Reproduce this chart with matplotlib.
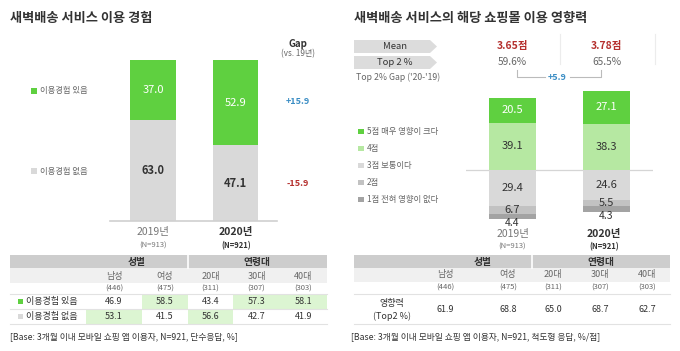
import matplotlib
matplotlib.use("Agg")
import matplotlib.pyplot as plt
from matplotlib.patches import Rectangle, Polygon

plt.rcParams['font.family'] = ['Noto Sans CJK KR', 'DejaVu Sans']

# ---------------- data ----------------
years = ['2019년', '2020년']
sample_n = ['(N=913)', '(N=921)']
exp_yes = [37.0, 52.9]
exp_no = [63.0, 47.1]
exp_gap = [15.9, -15.9]
exp_labels = ['이용경험 있음', '이용경험 없음']

score_labels = ['5점 매우 영향이 크다', '4점', '3점 보통이다', '2점', '1점 전혀 영향이 없다']
score5 = [20.5, 27.1]
score4 = [39.1, 38.3]
score3 = [29.4, 24.6]
score2 = [6.7, 5.5]
score1 = [4.4, 4.3]
means = [3.65, 3.78]
top2 = [59.6, 65.5]
top2_gap = 5.9

groups = ['남성', '여성', '20대', '30대', '40대']
group_base = [446, 475, 311, 307, 303]
tab_yes = [46.9, 58.5, 43.4, 57.3, 58.1]
tab_no = [53.1, 41.5, 56.6, 42.7, 41.9]
tab_influence = [61.9, 68.8, 65.0, 68.7, 62.7]

# ---------------- style ----------------
W, H = 680, 351
GREEN = '#5fd040'
LGREEN = '#b6e8a2'
HL = '#dcf5d2'
G3 = '#d9d9d9'
G2 = '#c2c2c2'
G1 = '#a3a3a3'
DARK = '#333333'
MID = '#666666'
BLUE = '#3a8dc4'
RED = '#b5302e'

fig = plt.figure(figsize=(W / 100, H / 100), dpi=100)
fig.patch.set_facecolor('white')
ov = fig.add_axes([0, 0, 1, 1])
ov.set_xlim(0, W)
ov.set_ylim(H, 0)
ov.axis('off')


def pax(x0, y0, x1, y1):
    a = fig.add_axes([x0 / W, 1 - y1 / H, (x1 - x0) / W, (y1 - y0) / H])
    a.axis('off')
    return a


def t(x, y, s, size=6.5, color=DARK, ha='center', weight='normal', **kw):
    ov.text(x, y, s, fontsize=size, color=color, ha=ha, va='center', fontweight=weight, **kw)


# ================= LEFT PANEL =================
t(10, 18, '새벽배송 서비스 이용 경험', size=9.5, ha='left', weight='bold')

axL = pax(110, 60, 277, 221)
axL.set_xlim(-0.521, 1.503)
axL.set_ylim(0, 100)
xs = [0, 1]
axL.bar(xs, exp_no, width=0.557, color=G3, linewidth=0)
axL.bar(xs, exp_yes, bottom=exp_no, width=0.557, color=GREEN, linewidth=0)
axL.axhline(0, color='#d0d0d0', lw=1.2, clip_on=False)
for i in xs:
    axL.text(i, exp_no[i] + exp_yes[i] / 2, f'{exp_yes[i]:.1f}', color='white',
             ha='center', va='center', fontsize=8)
    axL.text(i, exp_no[i] / 2, f'{exp_no[i]:.1f}', color=DARK,
             ha='center', va='center', fontsize=8, fontweight='bold')

# year labels
for i, (cx, col, w) in enumerate([(153, '#777777', 'normal'), (236, DARK, 'bold')]):
    t(cx, 232, years[i], size=7.5, color=col, weight=w)
    t(cx, 246, sample_n[i], size=5.5, color=col if i == 0 else DARK, weight=w)

# legend
for y, c, lab in [(91, GREEN, exp_labels[0]), (171, G3, exp_labels[1])]:
    ov.add_patch(Rectangle((31, y - 2.7), 5.5, 5.5, color=c, lw=0))
    t(40, y, lab, size=6, color=MID, ha='left')

# gap column
t(298, 44, 'Gap', size=7, weight='bold')
t(298, 54, '(vs. 19년)', size=5.8, color=MID)
t(298, 102, f'{exp_gap[0]:+.1f}', size=6.5, color=BLUE, weight='bold')
t(298, 184, f'{exp_gap[1]:+.1f}', size=6.5, color=RED, weight='bold')

# table left
colsL = [10, 86, 142, 188, 233, 280, 327]
ov.add_patch(Rectangle((10, 255), 317, 13, color='#cdcdcd', lw=0))
ov.add_line(plt.Line2D([188, 188], [255, 268], color='white', lw=1.2))
ov.add_patch(Rectangle((10, 268), 317, 15, color='#f0f0f0', lw=0))
t((86 + 188) / 2, 261.5, '성별', size=7, weight='bold')
t((188 + 327) / 2, 261.5, '연령대', size=7, weight='bold')
centersL = [(colsL[k + 1] + colsL[k + 2]) / 2 for k in range(5)]
for k, cx in enumerate(centersL):
    t(cx, 276, groups[k], size=6.5, color=MID)
    t(cx, 289, f'({group_base[k]})', size=5.5, color=MID)
rowsY = [301.5, 316.5]
for r, (vals, tot, c) in enumerate([(tab_yes, exp_yes[1], GREEN), (tab_no, exp_no[1], G3)]):
    y = rowsY[r]
    ov.add_patch(Rectangle((18, y - 2.6), 5.2, 5.2, color=c, lw=0))
    t(26, y, exp_labels[r], size=6.5, color=DARK, ha='left')
    for k, v in enumerate(vals):
        if v > tot:
            ov.add_patch(Rectangle((colsL[k + 1], y - 7.5), colsL[k + 2] - colsL[k + 1], 15, color=HL, lw=0))
        t(centersL[k], y, f'{v:.1f}', size=6.5, color=DARK)
for y in [294, 309, 324]:
    ov.add_line(plt.Line2D([10, 327], [y, y], color='#e2e2e2', lw=0.8))
t(10, 337, '[Base: 3개월 이내 모바일 쇼핑 앱 이용자, N=921, 단수응답, %]', size=6.3, color=DARK, ha='left')

# ================= RIGHT PANEL =================
t(354, 18, '새벽배송 서비스의 해당 쇼핑몰 이용 영향력', size=9.5, ha='left', weight='bold')

for y0, lab in [(40, 'Mean'), (56, 'Top 2 %')]:
    ov.add_patch(Polygon([(354, y0), (430, y0), (437, y0 + 6.5), (430, y0 + 13), (354, y0 + 13)],
                         closed=True, color='#dcdcdc', lw=0))
    t(395, y0 + 6.5, lab, size=6.8, color=DARK)
t(356, 77, "Top 2% Gap ('20-'19)", size=6.3, color=MID, ha='left')

barxR = [512.5, 606.5]
for i in range(2):
    t(barxR[i], 46, f'{means[i]:.2f}점', size=7.5, color=RED, weight='bold')
    t(barxR[i], 62, f'{top2[i]:.1f}%', size=7.3, color=MID)
for x in [560, 655]:
    ov.add_line(plt.Line2D([x, x], [34, 64], color='#ececec', lw=0.8))
# bracket
ov.add_line(plt.Line2D([517, 517, 545], [70, 77, 77], color='#bbbbbb', lw=0.8))
ov.add_line(plt.Line2D([570, 601, 601], [77, 77, 70], color='#bbbbbb', lw=0.8))
t(557, 78, f'{top2_gap:+.1f}', size=6.5, color=BLUE, weight='bold')

axR = pax(466, 85, 653, 225)
axR.set_xlim(-0.495, 1.495)
axR.set_ylim(-(225 - 170) / 1.21, (170 - 85) / 1.21)
axR.axhline(0, color='#d5d5d5', lw=0.9, zorder=0)
axR.bar(xs, score4, width=0.5, color=LGREEN, lw=0, zorder=2)
axR.bar(xs, score5, bottom=score4, width=0.5, color=GREEN, lw=0, zorder=2)
neg3 = [-v for v in score3]
neg2b = [-(a + b) for a, b in zip(score3, score2)]
neg1b = [-(a + b + c) for a, b, c in zip(score3, score2, score1)]
axR.bar(xs, neg3, width=0.5, color=G3, lw=0, zorder=2)
axR.bar(xs, score2, bottom=neg2b, width=0.5, color=G2, lw=0, zorder=2)
axR.bar(xs, score1, bottom=neg1b, width=0.5, color=G1, lw=0, zorder=2)
for i in xs:
    axR.text(i, score4[i] + score5[i] / 2, f'{score5[i]:.1f}', color='white', ha='center', va='center', fontsize=8, zorder=3)
    axR.text(i, score4[i] / 2, f'{score4[i]:.1f}', color=DARK, ha='center', va='center', fontsize=8, zorder=3)
    axR.text(i, -score3[i] / 2, f'{score3[i]:.1f}', color=DARK, ha='center', va='center', fontsize=8, zorder=3)
    axR.text(i, neg2b[i] + score2[i] / 2, f'{score2[i]:.1f}', color=DARK, ha='center', va='center', fontsize=8, zorder=3)
    axR.text(i, neg1b[i] - 3.6, f'{score1[i]:.1f}', color=DARK, ha='center', va='center', fontsize=7.5, zorder=3)

for i, (cx, col, w) in enumerate([(512.5, '#777777', 'normal'), (604, DARK, 'bold')]):
    t(cx, 233.5, years[i], size=7.5, color=col, weight=w)
    t(cx, 246.5, sample_n[i], size=5.5, color=col if i == 0 else DARK, weight=w)

legc = [GREEN, LGREEN, G3, G2, G1]
for k, lab in enumerate(score_labels):
    y = 131.5 + k * 17
    ov.add_patch(Rectangle((358, y - 2.7), 5.5, 5.5, color=legc[k], lw=0))
    t(367, y, lab, size=6, color=MID, ha='left')

# table right
ov.add_patch(Rectangle((354, 255), 316, 13, color='#cdcdcd', lw=0))
ov.add_line(plt.Line2D([532, 532], [255, 268], color='white', lw=1.2))
ov.add_patch(Rectangle((354, 268), 316, 14, color='#f0f0f0', lw=0))
t(483, 261.5, '성별', size=7, weight='bold')
t(601, 261.5, '연령대', size=7, weight='bold')
centersR = [445, 508, 553, 600, 647]
for k, cx in enumerate(centersR):
    t(cx, 275, groups[k], size=6.5, color=MID)
    t(cx, 288, f'({group_base[k]})', size=5.5, color=MID)
    t(cx, 309.5, f'{tab_influence[k]:.1f}', size=6.5, color=DARK)
t(392, 303, '영향력', size=6.5, color=DARK)
t(392, 316, '(Top2 %)', size=6.5, color=DARK)
for y in [293.5, 324]:
    ov.add_line(plt.Line2D([354, 670], [y, y], color='#e2e2e2', lw=0.8))
t(351, 337, '[Base: 3개월 이내 모바일 쇼핑 앱 이용자, N=921, 척도형 응답, %/점]', size=6.3, color=DARK, ha='left')

fig.savefig('out.png', dpi=100, facecolor='white')
